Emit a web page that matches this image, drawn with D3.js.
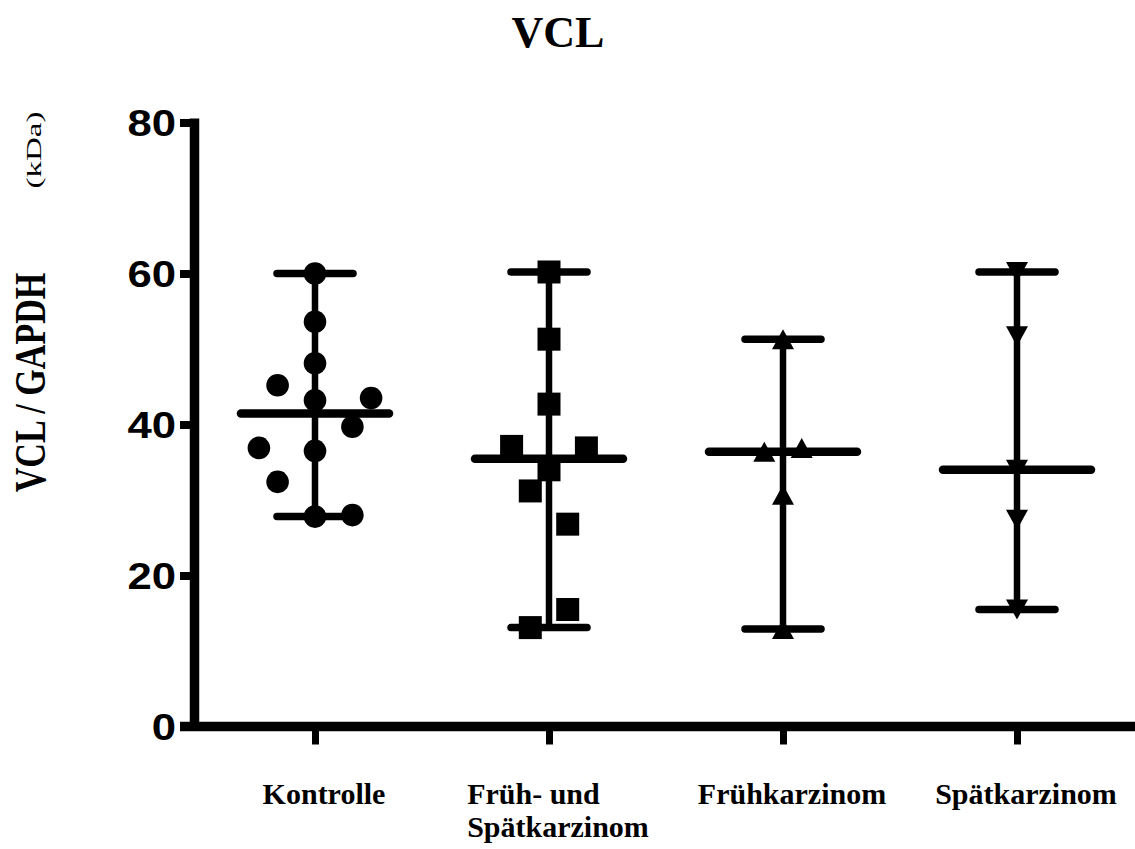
<!DOCTYPE html>
<html>
<head>
<meta charset="utf-8">
<script src="https://cdn.jsdelivr.net/npm/d3@7/dist/d3.min.js"></script>
<style>
  html, body { margin: 0; padding: 0; background: #fff; }
  svg { display: block; }
</style>
</head>
<body>
<svg id="chart" width="1135" height="849"></svg>
<script>
// Categories along the x axis
const categories = ["Kontrolle", "Früh- und Spätkarzinom", "Frühkarzinom", "Spätkarzinom"];
const categoryLines = [["Kontrolle"], ["Früh- und", "Spätkarzinom"], ["Frühkarzinom"], ["Spätkarzinom"]];

// VCL / GAPDH values per group
const kontrolle     = [60.0, 53.6, 48.1, 45.2, 43.2, 43.5, 39.7, 36.9, 36.5, 32.4, 27.8, 28.0];
const fruehSpaet    = [60.2, 51.3, 42.7, 37.1, 36.9, 34.0, 31.2, 26.8, 15.5, 13.1];
const fruehKarzinom = [51.3, 36.4, 36.9, 30.7, 12.9];
const spaetKarzinom = [60.2, 51.7, 34.0, 27.4, 15.5];

// Scatter column of each point (0 = on the centre line)
const kontrolleCols  = [0, 0, 0, -2, 0, 3, 2, -3, 0, -2, 0, 2];
const fruehSpaetCols = [0, 0, 0, -2, 2, 0, -1, 1, 1, -1];
const fruehCols      = [0, -1, 1, 0, 0];
const spaetCols      = [0, 0, 0, 0, 0];

// Y axis ticks
const yTicks = [0, 20, 40, 60, 80];

const title = "VCL";
const yTitle = "VCL / GAPDH";
const yUnit = "(kDa)";

// ---- layout ----
const W = 1135, H = 849;
const svg = d3.select("#chart");

const y = d3.scaleLinear().domain([0, 80]).range([726.5, 122.5]);
const x = d3.scalePoint().domain(categories).range([315, 1017]);
const colStep = 18.7;

// Marker shapes
const triSize = { w: 22, h: 20 };
const triangleUp = {
  draw(ctx) {
    ctx.moveTo(0, -triSize.h / 2);
    ctx.lineTo(triSize.w / 2, triSize.h / 2);
    ctx.lineTo(-triSize.w / 2, triSize.h / 2);
    ctx.closePath();
  }
};
const triangleDown = {
  draw(ctx) {
    ctx.moveTo(0, triSize.h / 2);
    ctx.lineTo(triSize.w / 2, -triSize.h / 2);
    ctx.lineTo(-triSize.w / 2, -triSize.h / 2);
    ctx.closePath();
  }
};

const groups = [
  { cat: categories[0], values: kontrolle,     cols: kontrolleCols,  symbol: d3.symbol().type(d3.symbolCircle).size(Math.PI * 11.3 * 11.3) },
  { cat: categories[1], values: fruehSpaet,    cols: fruehSpaetCols, symbol: d3.symbol().type(d3.symbolSquare).size(23 * 23) },
  { cat: categories[2], values: fruehKarzinom, cols: fruehCols,      symbol: d3.symbol().type(triangleUp) },
  { cat: categories[3], values: spaetKarzinom, cols: spaetCols,      symbol: d3.symbol().type(triangleDown) }
];

// ---- title ----
svg.append("text")
  .attr("x", 558).attr("y", 47)
  .attr("text-anchor", "middle")
  .style("font-family", "'Liberation Serif', 'Times New Roman', serif")
  .style("font-weight", "bold")
  .style("font-size", "44px")
  .text(title);

// ---- y axis title ----
svg.append("text")
  .attr("transform", "translate(45,382.5) rotate(-90) scale(0.775,1)")
  .attr("text-anchor", "middle")
  .style("font-family", "'Liberation Serif', 'Times New Roman', serif")
  .style("font-weight", "bold")
  .style("font-size", "44px")
  .text(yTitle);

svg.append("text")
  .attr("transform", "translate(41,150) rotate(-90) scale(1.5,1)")
  .attr("text-anchor", "middle")
  .style("font-family", "'Liberation Serif', 'Times New Roman', serif")
  .style("font-size", "22px")
  .text(yUnit);

// ---- y axis ----
const yAxisX = 194.5;
const yAxis = svg.append("g")
  .attr("transform", `translate(${yAxisX},0)`)
  .call(d3.axisLeft(y).tickValues(yTicks).tickSize(14.5).tickSizeOuter(0).tickFormat(""));
yAxis.select(".domain")
  .attr("d", `M0,${y(80) - 4}V${y(0)}`)
  .attr("stroke", "#000").attr("stroke-width", 9.5).attr("fill", "none");
yAxis.selectAll(".tick line").attr("stroke", "#000").attr("stroke-width", 8);

// tick labels (bold sans, slightly wide)
svg.append("g").selectAll("text")
  .data(yTicks)
  .join("text")
  .attr("transform", d => `translate(176,${y(d) + 13}) scale(1.18,1)`)
  .attr("text-anchor", "end")
  .style("font-family", "'Liberation Sans', Arial, Helvetica, sans-serif")
  .style("font-weight", "bold")
  .style("font-size", "37px")
  .text(d => d);

// ---- x axis ----
const xAxis = svg.append("g")
  .attr("transform", `translate(0,${y(0)})`)
  .call(d3.axisBottom(x).tickSize(18).tickSizeOuter(0).tickFormat(""));
xAxis.select(".domain")
  .attr("d", `M${yAxisX - 14.5},0H${W}`)
  .attr("stroke", "#000").attr("stroke-width", 9.5).attr("fill", "none");
xAxis.selectAll(".tick line").attr("stroke", "#000").attr("stroke-width", 7);

// category labels, centred a little right of each tick, multi-line ones left-aligned
const labelFont = "'Liberation Serif', 'Times New Roman', serif";
categories.forEach((cat, i) => {
  const lines = categoryLines[i];
  const g = svg.append("g");
  const texts = lines.map((t, k) => g.append("text")
    .attr("y", 804 + k * 33)
    .style("font-family", labelFont)
    .style("font-weight", "bold")
    .style("font-size", "30px")
    .text(t));
  const widest = d3.max(texts, t => t.node().getComputedTextLength());
  const left = x(cat) + 9 - widest / 2;
  texts.forEach(t => t.attr("x", left));
});

// ---- data: median with range, plus individual points ----
const plot = svg.append("g");
groups.forEach(gr => {
  const cx = x(gr.cat);
  const [lo, hi] = d3.extent(gr.values);
  const med = d3.median(gr.values);
  const g = plot.append("g");

  // range line
  g.append("line")
    .attr("x1", cx).attr("x2", cx)
    .attr("y1", y(lo)).attr("y2", y(hi))
    .attr("stroke", "#000").attr("stroke-width", 6.5);

  // caps at min / max
  g.selectAll("line.cap")
    .data([lo, hi])
    .join("line")
    .attr("class", "cap")
    .attr("x1", cx - 38).attr("x2", cx + 38)
    .attr("y1", d => y(d)).attr("y2", d => y(d))
    .attr("stroke", "#000").attr("stroke-width", 7.5).attr("stroke-linecap", "round");

  // median
  g.append("line")
    .attr("x1", cx - 74).attr("x2", cx + 74)
    .attr("y1", y(med)).attr("y2", y(med))
    .attr("stroke", "#000").attr("stroke-width", 8.5).attr("stroke-linecap", "round");

  // points
  g.selectAll("path.pt")
    .data(gr.values.map((v, k) => ({ v, c: gr.cols[k] })))
    .join("path")
    .attr("class", "pt")
    .attr("transform", d => `translate(${cx + d.c * colStep},${y(d.v)})`)
    .attr("d", gr.symbol())
    .attr("fill", "#000");
});
</script>
</body>
</html>
